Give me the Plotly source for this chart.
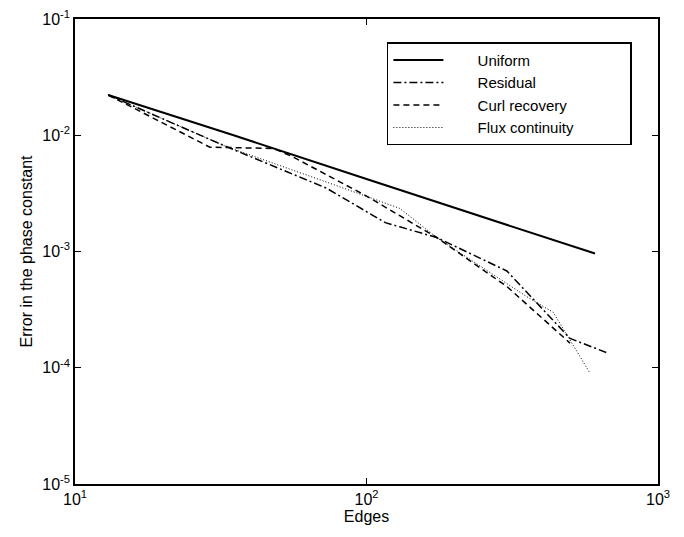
import plotly.graph_objects as go

# ---- data ----
uniform_x = [13, 35, 100, 200, 400, 608]
uniform_y = [0.0222, 0.0100, 0.0042, 0.00238, 0.00135, 0.00096]

residual_x = [13, 33, 73, 116, 130, 174, 303, 499, 676]
residual_y = [0.0222, 0.0080, 0.0035, 0.00177, 0.00163, 0.00132, 0.00068, 0.000179, 0.000133]

curl_x = [13, 29, 48, 56, 100, 174, 303, 499]
curl_y = [0.0222, 0.0079, 0.0077, 0.0065, 0.0030, 0.00132, 0.00050, 0.000163]

flux_x = [13, 33, 81, 130, 174, 354, 437, 585]
flux_y = [0.0222, 0.0080, 0.0036, 0.00235, 0.00132, 0.00041, 0.00030, 0.0000895]

series_names = ["Uniform", "Residual", "Curl recovery", "Flux continuity"]

x_tickvals = [10, 100, 1000]
x_ticktext = ["10<sup>1</sup>", "10<sup>2</sup>", "10<sup>3</sup>"]
y_tickvals = [1e-5, 1e-4, 1e-3, 1e-2, 1e-1]
y_ticktext = ["10<sup>-5</sup>", "10<sup>-4</sup>", "10<sup>-3</sup>", "10<sup>-2</sup>", "10<sup>-1</sup>"]

FONT = "Liberation Sans, Arial, sans-serif"
NB = "\u00a0"


def pad(name):
    # leading / trailing non-breaking spaces to mimic the wide MATLAB legend box
    return NB * 7 + name + NB * (27 - len(name))


fig = go.Figure()
fig.add_trace(go.Scatter(x=uniform_x, y=uniform_y, mode="lines", name=pad(series_names[0]),
                         line=dict(color="black", width=2, dash="solid")))
fig.add_trace(go.Scatter(x=residual_x, y=residual_y, mode="lines", name=pad(series_names[1]),
                         line=dict(color="black", width=1.5, dash="8px,3px,2px,3px")))
fig.add_trace(go.Scatter(x=curl_x, y=curl_y, mode="lines", name=pad(series_names[2]),
                         line=dict(color="black", width=1.5, dash="6px,4px")))
fig.add_trace(go.Scatter(x=flux_x, y=flux_y, mode="lines", name=pad(series_names[3]),
                         line=dict(color="black", width=1, dash="1px,2px")))

axis_common = dict(
    showgrid=False, zeroline=False, showline=True, linecolor="black", linewidth=1.5,
    mirror="ticks", ticks="inside", ticklen=6, tickcolor="black", tickwidth=1,
    tickfont=dict(family=FONT, size=16, color="black"),
)

fig.update_xaxes(type="log", range=[1, 3], tickvals=x_tickvals, ticktext=x_ticktext,
                 title=dict(text="Edges", font=dict(family=FONT, size=16, color="black"), standoff=4),
                 **axis_common)
fig.update_yaxes(type="log", range=[-5, -1], tickvals=y_tickvals, ticktext=y_ticktext,
                 title=dict(text="Error in the phase constant", font=dict(family=FONT, size=16, color="black"), standoff=6),
                 **axis_common)

fig.update_layout(
    width=684, height=537,
    margin=dict(l=75, r=26, t=19, b=53, autoexpand=False),
    paper_bgcolor="white", plot_bgcolor="white",
    font=dict(family=FONT, size=16, color="black"),
    legend=dict(x=0.535, y=0.95, xanchor="left", yanchor="top",
                bgcolor="white", bordercolor="black", borderwidth=1.5,
                font=dict(family=FONT, size=15, color="black"),
                tracegroupgap=0, itemwidth=50),
    showlegend=True,
)

fig.write_html("out.html")
